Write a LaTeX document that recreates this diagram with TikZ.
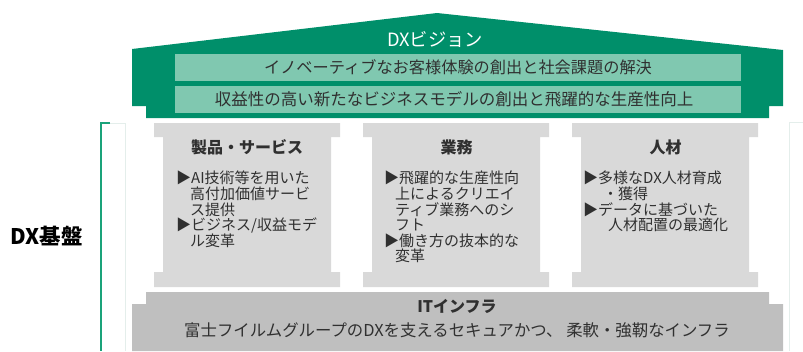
\documentclass[tikz,border=0pt]{standalone}
\usepackage{fontspec}
\setmainfont{Noto Sans CJK JP}
\definecolor{dkgreen}{HTML}{008F6A}
\definecolor{ltgreen}{HTML}{80C8B0}
\definecolor{brgreen}{HTML}{1AA37A}
\definecolor{colgray}{HTML}{D9D9D9}
\definecolor{infgray}{HTML}{BFBFBF}
\definecolor{faint}{HTML}{E4EEEB}
\definecolor{txt}{HTML}{303030}
\tikzset{
  bartext/.style={inner sep=0pt, text=txt, font=\fontsize{16.2}{18}\selectfont},
  coltitle/.style={inner sep=0pt, text=txt, font=\fontsize{16}{18}\selectfont\bfseries},
  colbody/.style={inner sep=0pt, text=txt, anchor=north west, align=left, font=\fontsize{15}{15.6}\selectfont},
}
\begin{document}
\begin{tikzpicture}[x=1pt,y=-1pt]
\useasboundingbox (0,0) rectangle (803,351);
% roof
\fill[dkgreen] (132,49) -- (437,13) -- (783,50) -- (783,106) -- (769,106) -- (769,118)
  -- (146,118) -- (146,106) -- (132,106) -- cycle;
\fill[ltgreen] (175,54) rectangle (741,81);
\fill[ltgreen] (175,86) rectangle (741,113);
\node[inner sep=0pt, text=white, font=\fontsize{18.3}{20}\selectfont] (vision) at (435,39) {DXビジョン};
\node[bartext] (bar1) at (458,67.5) {イノベーティブなお客様体験の創出と社会課題の解決};
\node[bartext, font=\fontsize{16.5}{18}\selectfont] (bar2) at (454,99.5) {収益性の高い新たなビジネスモデルの創出と飛躍的な生産性向上};
% bracket
\draw[faint, line width=1pt] (110,123) -- (125,123) -- (125,351);
\draw[brgreen, line width=2pt] (110,123) -- (101,123) -- (101,351);
\draw[faint, line width=1pt] (803,122) -- (789,122) -- (789,351);
\node[inner sep=0pt, text=black, font=\fontsize{21.5}{23}\selectfont\bfseries] (base) at (46.5,236) {DX基盤};
% columns
\foreach \L in {154,363,572}{
  \fill[colgray] (\L,123) -- (\L+186,123) -- (\L+186,137) -- (\L+177,137) -- (\L+177,272)
    -- (\L+186,272) -- (\L+186,287) -- (\L,287) -- (\L,272) -- (\L+9,272) -- (\L+9,137)
    -- (\L,137) -- cycle;
}
\node[coltitle] (t1) at (247,147) {製品・サービス};
\node[coltitle] (t2) at (456.5,147) {業務};
\node[coltitle] (t3) at (665.5,147) {人材};
\node[colbody] (b1) at (176,171) {▶AI技術等を用いた\\\hspace*{14pt}高付加価値サービ\\\hspace*{14pt}ス提供\\▶ビジネス/収益モデ\\\hspace*{14pt}ル変革};
\node[colbody] (b2) at (384,171) {▶飛躍的な生産性向\\\hspace*{11pt}上によるクリエイ\\\hspace*{11pt}ティブ業務へのシ\\\hspace*{11pt}フト\\▶働き方の抜本的な\\\hspace*{11pt}変革};
\node[colbody] (b3) at (583,171) {▶多様なDX人材育成\\\hspace*{20pt}・獲得\\▶データに基づいた\\\hspace*{25pt}人材配置の最適化};
% infrastructure
\fill[infgray] (146,292) -- (769,292) -- (769,304) -- (783,304) -- (783,351) -- (132,351)
  -- (132,304) -- (146,304) -- cycle;
\node[coltitle] (it) at (457,306) {ITインフラ};
\node[bartext, font=\fontsize{16.4}{18}\selectfont] (itd) at (457,330) {富士フイルムグループのDXを支えるセキュアかつ、 柔軟・強靭なインフラ};
\end{tikzpicture}
\end{document}
